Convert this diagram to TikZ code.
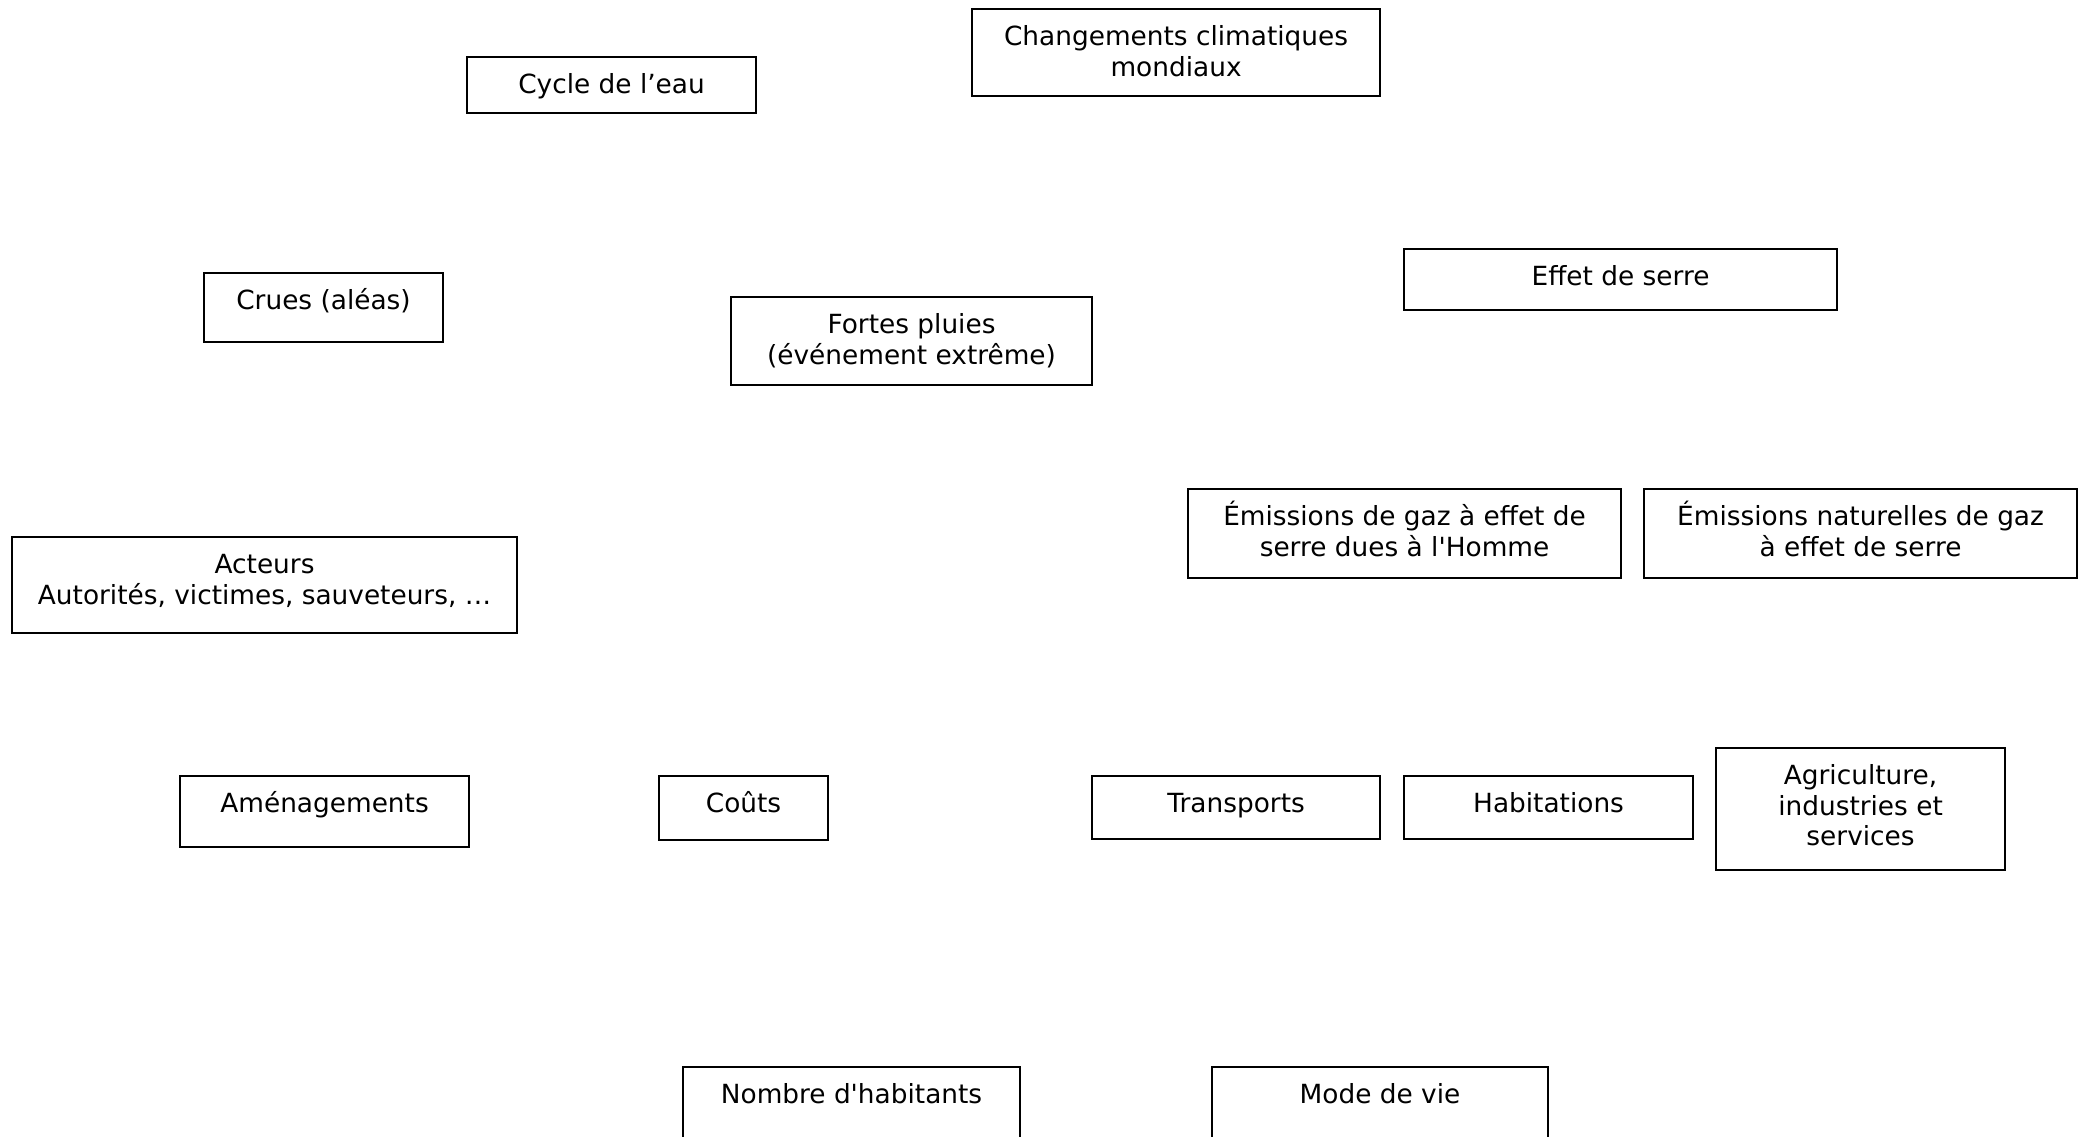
\documentclass[tikz,border=0pt]{standalone}
\usepackage{fontspec}
\newfontfamily\boxfont{DejaVu Sans}
\usetikzlibrary{positioning}

\begin{document}
\begin{tikzpicture}[
  box/.style={draw, line width=0.6pt, anchor=north west, align=center,
              font=\boxfont\fontsize{7.5pt}{8.7pt}\selectfont,
              inner xsep=2pt, inner ysep=0pt, text height=3.65mm},
  twolines/.style={text height=6.71mm},
  threelines/.style={text height=9.77mm},
]
\clip (0,0) rectangle (20.89,-11.36);

% ---- Top row ----
\node[box, minimum width=2.89cm, text depth=1.95mm] (cycle) at (4.66,-0.56)
  {Cycle de l’eau};
\node[box, twolines, minimum width=4.08cm, text depth=1.99mm] (climat) at (9.71,-0.08)
  {Changements climatiques\\mondiaux};

% ---- Second row ----
\node[box, minimum width=2.39cm, text depth=3.25mm] (crues) at (2.03,-2.72)
  {Crues (aléas)};
\node[box, twolines, minimum width=3.61cm, text depth=2.09mm] (pluies) at (7.30,-2.96)
  {Fortes pluies\\(événement extrême)};
\node[box, minimum width=4.33cm, text depth=2.45mm] (serre) at (14.03,-2.48)
  {Effet de serre};

% ---- Emissions and actors ----
\node[box, twolines, minimum width=4.33cm, text depth=2.19mm] (emhomme) at (11.87,-4.88)
  {Émissions de gaz à effet de\\serre dues à l'Homme};
\node[box, twolines, minimum width=4.33cm, text depth=2.19mm] (emnat) at (16.43,-4.88)
  {Émissions naturelles de gaz\\à effet de serre};
\node[box, twolines, minimum width=5.05cm, text depth=2.89mm] (acteurs) at (0.11,-5.36)
  {Acteurs\\Autorités, victimes, sauveteurs, …};

% ---- Fourth row ----
\node[box, minimum width=2.89cm, text depth=3.45mm] (amenag) at (1.79,-7.75)
  {Aménagements};
\node[box, minimum width=1.69cm, text depth=2.75mm] (couts) at (6.58,-7.75)
  {Coûts};
\node[box, minimum width=2.88cm, text depth=2.65mm] (transp) at (10.91,-7.75)
  {Transports};
\node[box, minimum width=2.89cm, text depth=2.65mm] (habit) at (14.03,-7.75)
  {Habitations};
\node[box, threelines, minimum width=2.89cm, text depth=2.43mm] (agri) at (17.15,-7.47)
  {Agriculture,\\industries et\\services};

% ---- Bottom row (cut by the page edge) ----
\node[box, minimum width=3.37cm, text depth=7.00mm] (habitants) at (6.82,-10.66)
  {Nombre d'habitants};
\node[box, minimum width=3.36cm, text depth=7.00mm] (vie) at (12.11,-10.66)
  {Mode de vie};

\end{tikzpicture}
\end{document}
